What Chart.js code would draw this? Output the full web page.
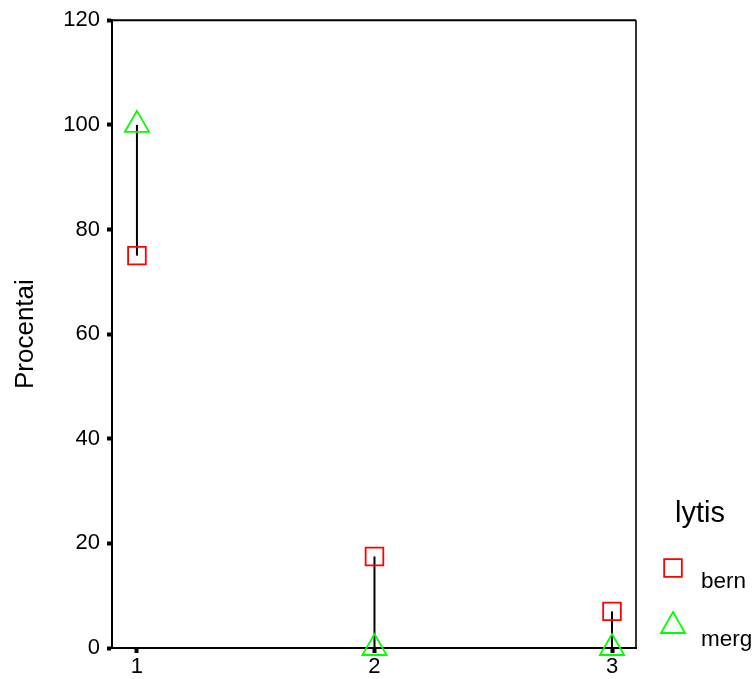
<!DOCTYPE html>
<html>
<head>
<meta charset="utf-8">
<script src="https://cdn.jsdelivr.net/npm/chart.js@4/dist/chart.umd.min.js"></script>
<style>
  html, body { margin: 0; padding: 0; background: #fff; }
  #wrap { width: 752px; height: 679px; }
</style>
</head>
<body>
<div id="wrap"><canvas id="chart" width="752" height="679"></canvas></div>
<script>
// ==================== DATA ====================
const categories = [1, 2, 3];
const bern = [75, 17.5, 7];
const merg = [100, 0, 0];
const yTicks = [0, 20, 40, 60, 80, 100, 120];
const legendTitle = 'lytis';
const seriesNames = ['bern', 'merg'];

const FONT = '"Liberation Sans", Arial, Helvetica, sans-serif';
const RED = '#ff0000';
const GREEN = '#00ff00';

// hi-lo connector between the two series at each category
const hiLoLines = {
  id: 'hiLoLines',
  beforeDatasetsDraw(chart) {
    const { ctx, scales: { x, y } } = chart;
    ctx.save();
    ctx.strokeStyle = '#000';
    ctx.lineWidth = 2;
    categories.forEach((c, i) => {
      const px = x.getPixelForValue(c);
      ctx.beginPath();
      ctx.moveTo(px, y.getPixelForValue(bern[i]));
      ctx.lineTo(px, y.getPixelForValue(merg[i]));
      ctx.stroke();
    });
    ctx.restore();
  },
};

// top / right sides of the frame
const frame = {
  id: 'frame',
  afterDraw(chart) {
    const { ctx, chartArea: a } = chart;
    ctx.save();
    ctx.strokeStyle = '#000';
    ctx.lineWidth = 2;
    ctx.beginPath();
    ctx.moveTo(a.left, a.top);
    ctx.lineTo(a.right, a.top);
    ctx.stroke();
    ctx.lineWidth = 1.6;
    ctx.beginPath();
    ctx.moveTo(a.right, a.top);
    ctx.lineTo(a.right, a.bottom);
    ctx.stroke();
    ctx.restore();
  },
};

// legend drawn at the right, SPSS style
const sideLegend = {
  id: 'sideLegend',
  afterDraw(chart) {
    const { ctx } = chart;
    ctx.save();
    ctx.textBaseline = 'alphabetic';
    ctx.textAlign = 'left';
    ctx.fillStyle = '#000';
    ctx.font = '29px ' + FONT;
    ctx.fillText(legendTitle, 675, 522);
    const rows = [568, 626];
    chart.data.datasets.forEach((ds, i) => {
      ctx.fillStyle = 'rgba(0,0,0,0)';
      ctx.strokeStyle = ds.borderColor;
      ctx.lineWidth = ds.pointBorderWidth;
      Chart.helpers.drawPoint(ctx, {
        pointStyle: ds.pointStyle,
        radius: ds.pointRadius,
        borderWidth: ds.pointBorderWidth,
      }, 673, rows[i]);
      ctx.fillStyle = '#000';
      ctx.font = '22.5px ' + FONT;
      ctx.fillText(seriesNames[i], 701, rows[i] + 20);
    });
    ctx.restore();
  },
};

const ctx = document.getElementById('chart').getContext('2d');
new Chart(ctx, {
  type: 'scatter',
  data: {
    datasets: [
      {
        label: seriesNames[0],
        data: categories.map((c, i) => ({ x: c, y: bern[i] })),
        pointStyle: 'rect',
        pointRadius: 12.5,
        pointHoverRadius: 12.5,
        pointBorderWidth: 1.8,
        borderColor: RED,
        backgroundColor: 'rgba(0,0,0,0)',
        clip: false,
      },
      {
        label: seriesNames[1],
        data: categories.map((c, i) => ({ x: c, y: merg[i] })),
        pointStyle: 'triangle',
        pointRadius: 14,
        pointHoverRadius: 14,
        pointBorderWidth: 1.8,
        borderColor: GREEN,
        backgroundColor: 'rgba(0,0,0,0)',
        clip: false,
      },
    ],
  },
  options: {
    responsive: false,
    animation: false,
    events: [],
    layout: { padding: { top: 19, right: 116, left: 0, bottom: 0 } },
    plugins: { legend: { display: false }, tooltip: { enabled: false } },
    scales: {
      x: {
        type: 'linear',
        min: 0.895,
        max: 3.101,
        afterBuildTicks: (s) => { s.ticks = categories.map((v) => ({ value: v })); },
        afterFit: (s) => { s.height = 31; },
        grid: { display: true, drawOnChartArea: false, drawTicks: true, tickLength: 5, tickWidth: 4, tickColor: '#000' },
        border: { display: true, color: '#000', width: 2 },
        ticks: { color: '#000', padding: 1, font: { family: FONT, size: 22 }, maxRotation: 0, callback: (v) => String(v) },
      },
      y: {
        min: 0,
        max: 120,
        afterBuildTicks: (s) => { s.ticks = yTicks.map((v) => ({ value: v })); },
        afterFit: (s) => { s.width = 112; },
        grid: { display: true, drawOnChartArea: false, drawTicks: true, tickLength: 5, tickWidth: 4, tickColor: '#000' },
        border: { display: true, color: '#000', width: 2 },
        ticks: { color: '#000', padding: 7, font: { family: FONT, size: 22 } },
        title: { display: true, text: 'Procentai', color: '#000', font: { family: FONT, size: 26 }, padding: { top: 10, bottom: 0 } },
      },
    },
  },
  plugins: [hiLoLines, frame, sideLegend],
});
</script>
</body>
</html>
